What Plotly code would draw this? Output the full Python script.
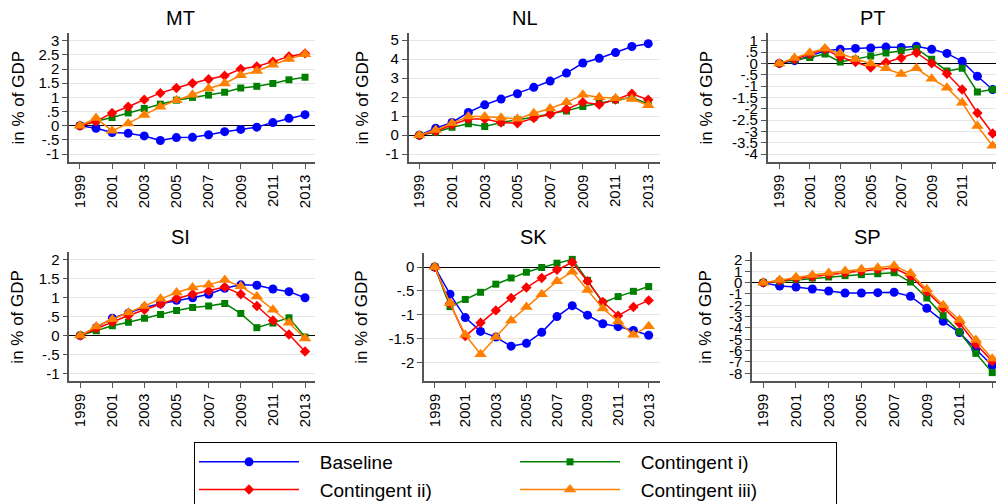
import plotly.graph_objects as go

years = list(range(1999, 2014))
xtick_vals = [1999, 2001, 2003, 2005, 2007, 2009, 2011, 2013]

series_names = ["Baseline", "Contingent i)", "Contingent ii)", "Contingent iii)"]
series_colors = ["#0000FF", "#008000", "#FF0000", "#FF8000"]
series_symbols = ["circle", "square", "diamond", "triangle-up"]
series_sizes = [9, 7, 8, 11]
# legend columns: left column (Baseline, Contingent ii)), right column (Contingent i), Contingent iii))
series_legend_col = ["left", "right", "left", "right"]

# MT
mt_baseline = [0, -0.09, -0.24, -0.27, -0.36, -0.52, -0.42, -0.41, -0.32, -0.21, -0.13, -0.05, 0.11, 0.26, 0.39]
mt_ci = [0, 0.16, 0.29, 0.45, 0.61, 0.76, 0.90, 1.00, 1.08, 1.18, 1.33, 1.39, 1.49, 1.62, 1.71]
mt_cii = [0, 0.15, 0.45, 0.67, 0.92, 1.15, 1.33, 1.50, 1.64, 1.76, 2.00, 2.09, 2.26, 2.44, 2.55]
mt_ciii = [0, 0.27, -0.18, 0.08, 0.38, 0.67, 0.90, 1.09, 1.31, 1.49, 1.78, 1.93, 2.15, 2.35, 2.52]

# NL
nl_baseline = [0, 0.37, 0.67, 1.20, 1.60, 1.90, 2.18, 2.52, 2.85, 3.27, 3.80, 4.05, 4.35, 4.67, 4.82]
nl_ci = [0, 0.16, 0.42, 0.60, 0.46, 0.67, 0.81, 0.95, 1.13, 1.28, 1.51, 1.69, 1.85, 1.99, 1.64]
nl_cii = [0, 0.20, 0.55, 0.85, 0.85, 0.67, 0.63, 0.90, 1.10, 1.37, 1.74, 1.62, 1.88, 2.18, 1.87]
nl_ciii = [0, 0.28, 0.63, 0.99, 0.99, 0.92, 0.86, 1.16, 1.41, 1.73, 2.13, 2.00, 1.94, 1.90, 1.58]

# PT
pt_baseline = [0, 0.12, 0.32, 0.56, 0.62, 0.66, 0.68, 0.72, 0.70, 0.76, 0.62, 0.44, 0.09, -0.57, -1.15]
pt_ci = [0, 0.15, 0.26, 0.41, 0.06, 0.18, 0.32, 0.46, 0.56, 0.66, 0.18, -0.34, -0.22, -1.26, -1.15]
pt_cii = [0, 0.18, 0.41, 0.62, 0.29, 0.06, -0.18, 0.04, 0.24, 0.47, 0.00, -0.46, -1.15, -2.19, -3.09]
pt_ciii = [0, 0.24, 0.47, 0.66, 0.44, 0.19, 0.00, -0.22, -0.47, -0.22, -0.68, -1.07, -1.74, -2.76, -3.63]

# SI
si_baseline = [0, 0.21, 0.46, 0.59, 0.74, 0.84, 0.93, 1.00, 1.09, 1.25, 1.34, 1.33, 1.23, 1.16, 1.00]
si_ci = [0, 0.13, 0.26, 0.35, 0.46, 0.56, 0.66, 0.74, 0.78, 0.85, 0.58, 0.21, 0.33, 0.47, -0.04]
si_cii = [0, 0.19, 0.36, 0.53, 0.68, 0.83, 0.98, 1.09, 1.18, 1.28, 1.09, 0.78, 0.40, 0.03, -0.42]
si_ciii = [0, 0.24, 0.43, 0.61, 0.78, 0.97, 1.14, 1.27, 1.34, 1.47, 1.30, 1.03, 0.68, 0.34, -0.08]

# SK
sk_baseline = [0, -0.57, -1.06, -1.35, -1.47, -1.66, -1.60, -1.37, -1.04, -0.81, -1.01, -1.19, -1.25, -1.33, -1.43]
sk_ci = [0, -0.83, -0.68, -0.53, -0.36, -0.23, -0.11, -0.01, 0.08, 0.16, -0.28, -0.75, -0.62, -0.51, -0.41]
sk_cii = [0, -0.76, -1.45, -1.17, -0.91, -0.65, -0.43, -0.23, -0.06, 0.10, -0.30, -0.73, -1.02, -0.84, -0.70]
sk_ciii = [0, -0.76, -1.42, -1.83, -1.47, -1.12, -0.84, -0.57, -0.30, -0.10, -0.48, -0.87, -1.14, -1.42, -1.24]

# SP
sp_baseline = [0, -0.29, -0.38, -0.56, -0.74, -0.91, -0.91, -0.88, -0.85, -1.21, -2.26, -3.41, -4.41, -5.88, -7.32]
sp_ci = [0, 0.12, 0.29, 0.41, 0.50, 0.62, 0.71, 0.79, 0.88, 0.06, -1.35, -2.91, -4.35, -6.24, -7.94]
sp_cii = [0, 0.18, 0.38, 0.53, 0.71, 0.88, 1.03, 1.18, 1.29, 0.59, -0.79, -2.26, -3.59, -5.41, -6.94]
sp_ciii = [0, 0.24, 0.47, 0.68, 0.85, 1.03, 1.18, 1.32, 1.50, 0.82, -0.59, -2.00, -3.29, -5.06, -6.71]

# y tick labels (Stata style)
mt_yticks = [-1, -0.5, 0, 0.5, 1, 1.5, 2, 2.5, 3]
mt_ylabels = ["-1", "-.5", "0", ".5", "1", "1.5", "2", "2.5", "3"]
nl_yticks = [-1, 0, 1, 2, 3, 4, 5]
nl_ylabels = ["-1", "0", "1", "2", "3", "4", "5"]
pt_yticks = [1, 0.5, 0, -0.5, -1, -1.5, -2, -2.5, -3, -3.5, -4]
pt_ylabels = ["1", ".5", "0", "-.5", "-1", "-1.5", "-2", "-2.5", "-3", "-3.5", "-4"]
si_yticks = [-1, -0.5, 0, 0.5, 1, 1.5, 2]
si_ylabels = ["-1", "-.5", "0", ".5", "1", "1.5", "2"]
sk_yticks = [0, -0.5, -1, -1.5, -2]
sk_ylabels = ["0", "-.5", "-1", "-1.5", "-2"]
sp_yticks = [2, 1, 0, -1, -2, -3, -4, -5, -6, -7, -8]
sp_ylabels = ["2", "1", "0", "-1", "-2", "-3", "-4", "-5", "-6", "-7", "-8"]

W, H = 996, 504

panels = [
    dict(name="MT", data=[mt_baseline, mt_ci, mt_cii, mt_ciii], yt=mt_yticks, yl=mt_ylabels,
         px=(69, 315), py=(33, 162), xr=(1998.32, 2013.62), yr=(-1.28, 3.27), title_x=180, title_y=18, ylab_x=18),
    dict(name="NL", data=[nl_baseline, nl_ci, nl_cii, nl_ciii], yt=nl_yticks, yl=nl_ylabels,
         px=(408.7, 660), py=(33, 162), xr=(1998.35, 2013.72), yr=(-1.41, 5.38), title_x=525, title_y=18, ylab_x=362),
    dict(name="PT", data=[pt_baseline, pt_ci, pt_cii, pt_ciii], yt=pt_yticks, yl=pt_ylabels,
         px=(767.7, 996), py=(33, 162), xr=(1998.24, 2013.22), yr=(-4.35, 1.34), title_x=873, title_y=18, ylab_x=706),
    dict(name="SI", data=[si_baseline, si_ci, si_cii, si_ciii], yt=si_yticks, yl=si_ylabels,
         px=(69.3, 315), py=(252.3, 381), xr=(1998.32, 2013.62), yr=(-1.2, 2.2), title_x=180, title_y=237, ylab_x=18),
    dict(name="SK", data=[sk_baseline, sk_ci, sk_cii, sk_ciii], yt=sk_yticks, yl=sk_ylabels,
         px=(424, 660), py=(252.7, 381), xr=(1998.3, 2013.74), yr=(-2.39, 0.30), title_x=533, title_y=237, ylab_x=362),
    dict(name="SP", data=[sp_baseline, sp_ci, sp_cii, sp_ciii], yt=sp_yticks, yl=sp_ylabels,
         px=(752, 996), py=(252.3, 381), xr=(1998.31, 2013.23), yr=(-8.68, 2.68), title_x=867, title_y=237, ylab_x=706),
]

SANS = "Liberation Sans"
TICK_FONT = dict(family=SANS, size=15, color="#000000")
NBSP = "\u00a0\u00a0\u00a0"

fig = go.Figure()
annotations = []
layout_axes = {}

for i, p in enumerate(panels):
    idx = i + 1
    xa = "x" if idx == 1 else f"x{idx}"
    ya = "y" if idx == 1 else f"y{idx}"
    for s in range(4):
        fig.add_trace(go.Scatter(
            x=years, y=p["data"][s], xaxis=xa, yaxis=ya,
            mode="lines+markers", name=NBSP + series_names[s], legendgroup=series_legend_col[s],
            showlegend=(idx == 1),
            line=dict(color=series_colors[s], width=1.5),
            marker=dict(symbol=series_symbols[s], size=series_sizes[s], color=series_colors[s],
                        line=dict(width=0)),
        ))
    xkey = "xaxis" if idx == 1 else f"xaxis{idx}"
    ykey = "yaxis" if idx == 1 else f"yaxis{idx}"
    layout_axes[xkey] = dict(
        domain=[p["px"][0] / W, min(p["px"][1] / W, 1.0)], anchor=ya, range=list(p["xr"]),
        tickvals=xtick_vals, ticktext=[str(v) for v in xtick_vals], tickangle=-90,
        ticks="outside", ticklen=5, tickcolor="#555555", showline=True, linecolor="#555555",
        linewidth=1.5, showgrid=False, zeroline=False, tickfont=TICK_FONT, automargin=False,
    )
    layout_axes[ykey] = dict(
        domain=[1 - p["py"][1] / H, 1 - p["py"][0] / H], anchor=xa, range=list(p["yr"]),
        tickvals=p["yt"], ticktext=p["yl"], ticks="outside", ticklen=5, tickcolor="#555555",
        showline=True, linecolor="#555555", linewidth=1.5, showgrid=True, gridcolor="#E6E6E6",
        gridwidth=1, zeroline=True, zerolinecolor="#000000", zerolinewidth=1, tickfont=TICK_FONT,
        automargin=False,
    )
    annotations.append(dict(
        text=p["name"], x=p["title_x"] / W, y=1 - p["title_y"] / H, xref="paper", yref="paper",
        xanchor="center", yanchor="middle", showarrow=False,
        font=dict(family=SANS, size=20, color="#000000"),
    ))
    annotations.append(dict(
        text="in % of GDP", x=p["ylab_x"] / W, y=1 - (p["py"][0] + p["py"][1]) / 2 / H,
        xref="paper", yref="paper", xanchor="center", yanchor="middle", showarrow=False,
        textangle=-90, font=dict(family=SANS, size=17, color="#000000"),
    ))

fig.update_layout(
    width=W, height=H, margin=dict(l=0, r=0, t=0, b=0, autoexpand=False),
    paper_bgcolor="white", plot_bgcolor="white", hovermode=False,
    annotations=annotations,
    legend=dict(
        orientation="h", x=194 / W, y=1 - 442 / H, xanchor="left", yanchor="top",
        bordercolor="#000000", borderwidth=1, bgcolor="white",
        font=dict(family=SANS, size=19, color="#000000"),
        itemwidth=100, entrywidth=206, entrywidthmode="pixels",
        traceorder="grouped", tracegroupgap=0, itemsizing="trace",
    ),
    **layout_axes,
)

fig.write_html("out.html", config={"displayModeBar": False},
               post_script="document.body.style.margin='0';")
